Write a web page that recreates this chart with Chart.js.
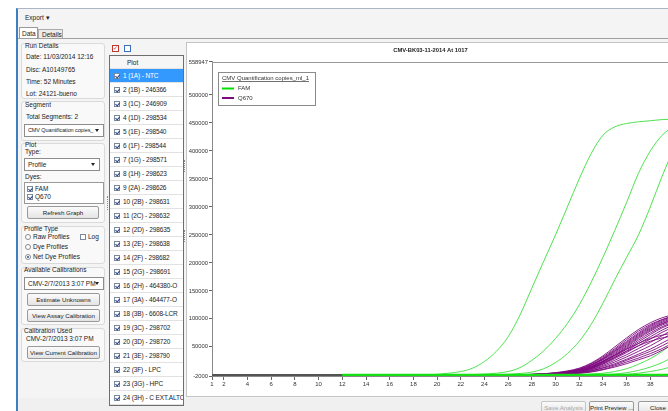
<!DOCTYPE html>
<html>
<head>
<meta charset="utf-8">
<script src="https://cdn.jsdelivr.net/npm/chart.js@4.4.1/dist/chart.umd.min.js"></script>
<style>
*{box-sizing:border-box}
html,body{margin:0;padding:0}
body{width:668px;height:411px;overflow:hidden;background:#fff;position:relative;font:6.5px/8px "Liberation Sans",Arial,sans-serif;color:#222}
.a{position:absolute;white-space:nowrap}
#win{position:absolute;left:16px;top:8px;width:660px;height:410px;background:#f4f4f4;border-left:2px solid #3f7fbf;border-top:1px solid #aab6c3}
.grp{position:absolute;border:1px solid #dadada;border-radius:3px;background:#f9f9f9}
.btn{position:absolute;height:13px;border:1px solid #9a9a9a;border-radius:2px;background:linear-gradient(#fbfbfb,#e4e4e4);text-align:center;line-height:11px;white-space:nowrap;overflow:hidden;font-size:6.2px}
.dd{position:absolute;height:13px;border:1px solid #8c8c8c;background:#fff;line-height:11px;padding-left:3px;white-space:nowrap;overflow:hidden}
.dd i{position:absolute;right:4px;top:4px;width:0;height:0;border-left:2.5px solid transparent;border-right:2.5px solid transparent;border-top:3px solid #222}
.cb{position:absolute;width:6px;height:6px;border:1px solid #7a8a9c;background:#fff}
.cb.on:after{content:"";position:absolute;left:1px;top:0px;width:2px;height:3px;border:solid #2a3f86;border-width:0 1px 1px 0;transform:rotate(40deg)}
.rd{position:absolute;width:6px;height:6px;border:1px solid #8a8a8a;border-radius:50%;background:#fff}
.rd.on:after{content:"";position:absolute;left:1px;top:1px;width:2px;height:2px;border-radius:50%;background:#1e4f9c}
#list{position:absolute;left:109px;top:55px;width:75px;height:351px;border:1px solid #6e6e6e;background:#fff;overflow:hidden}
.row{position:absolute;left:0;width:73px;height:14px;border-bottom:1px solid #e2e2e2;line-height:13px;white-space:nowrap}
.row span{white-space:nowrap;letter-spacing:-0.12px}
.row.sel{background:#3399ff;color:#fff}
#panel{position:absolute;left:186px;top:42px;width:500px;height:355px;border:1px solid #c4c4c4;background:#fff}
#panel canvas{position:absolute;left:0;top:0}
</style>
</head>
<body>
<div id="win"></div>
<div class="a" style="left:25px;top:14px">Export ▾</div>
<div class="a" style="left:19px;top:27px;width:19px;height:12px;background:#fff;border:1px solid #9a9a9a;border-bottom:none;padding-left:2px;line-height:11px">Data</div>
<div class="a" style="left:38px;top:29px;width:25px;height:10px;background:#ececec;border:1px solid #aaa;border-bottom:none;padding-left:3px;line-height:9px">Details</div>
<div class="a" style="left:18px;top:38px;width:652px;height:1px;background:#a0a0a0"></div>

<!-- bottom bar -->
<div class="a" style="left:18px;top:398px;width:652px;height:13px;background:#f0f0f0"></div>

<!-- left panel groups -->
<div class="grp" style="left:21px;top:43px;width:84px;height:56px"></div>
<div class="a" style="left:25px;top:42px">Run Details</div>
<div class="a" style="left:26px;top:53px">Date: 11/03/2014 12:16</div>
<div class="a" style="left:26px;top:66px">Disc: A10149765</div>
<div class="a" style="left:26px;top:78px">Time: 52 Minutes</div>
<div class="a" style="left:26px;top:90px">Lot: 24121-bueno</div>

<div class="grp" style="left:21px;top:101px;width:84px;height:40px"></div>
<div class="a" style="left:25px;top:101px">Segment</div>
<div class="a" style="left:26px;top:113px">Total Segments: 2</div>
<div class="dd" style="left:24px;top:124px;width:80px;font-size:5.5px;letter-spacing:-0.1px">CMV Quantification copies_<i></i></div>

<div class="grp" style="left:21px;top:143px;width:84px;height:80px"></div>
<div class="a" style="left:25px;top:141px">Plot</div>
<div class="a" style="left:25px;top:148px">Type:</div>
<div class="dd" style="left:24px;top:158px;width:76px">Profile<i></i></div>
<div class="a" style="left:25px;top:173px">Dyes:</div>
<div class="a" style="left:24px;top:182px;width:80px;height:22px;border:1px solid #9a9a9a;background:#fff"></div>
<div class="cb on" style="left:27px;top:186px"></div><div class="a" style="left:35px;top:185px">FAM</div>
<div class="cb on" style="left:27px;top:194px"></div><div class="a" style="left:35px;top:193px">Q670</div>
<div class="btn" style="left:27px;top:206px;width:72px">Refresh Graph</div>

<div class="grp" style="left:21px;top:226px;width:84px;height:38px"></div>
<div class="a" style="left:24px;top:225px">Profile Type</div>
<div class="rd" style="left:25px;top:234px"></div><div class="a" style="left:33px;top:233px">Raw Profiles</div>
<div class="cb" style="left:80px;top:234px"></div><div class="a" style="left:88px;top:233px">Log</div>
<div class="rd" style="left:25px;top:244px"></div><div class="a" style="left:33px;top:243px">Dye Profiles</div>
<div class="rd on" style="left:25px;top:254px"></div><div class="a" style="left:33px;top:253px">Net Dye Profiles</div>

<div class="grp" style="left:21px;top:267px;width:84px;height:58px"></div>
<div class="a" style="left:24px;top:266px">Available Calibrations</div>
<div class="dd" style="left:24px;top:277px;width:80px">CMV-2/7/2013 3:07 PM<i></i></div>
<div class="btn" style="left:27px;top:293px;width:73px">Estimate Unknowns</div>
<div class="btn" style="left:27px;top:309px;width:73px">View Assay Calibration</div>

<div class="grp" style="left:21px;top:328px;width:84px;height:34px"></div>
<div class="a" style="left:24px;top:327px">Calibration Used</div>
<div class="a" style="left:26px;top:335px">CMV-2/7/2013 3:07 PM</div>
<div class="btn" style="left:27px;top:346px;width:73px">View Current Calibration</div>

<!-- list -->
<div class="a" style="left:112px;top:45px;width:7px;height:7px;border:1px solid #c0392b;background:#fff"></div>
<div class="a" style="left:113px;top:45px;color:#c0392b;font-size:6px;line-height:6px">✓</div>
<div class="a" style="left:124px;top:45px;width:7px;height:7px;border:1px solid #3b6fc4;background:#fff"></div>
<div class="a" style="left:107px;top:196px;width:1px;height:14px;border-left:1px dotted #888"></div>
<div class="a" style="left:184px;top:160px;width:1px;height:12px;border-left:1px dotted #888"></div>
<div class="a" style="left:184px;top:230px;width:1px;height:12px;border-left:1px dotted #888"></div>
<div id="list"><div class="row" style="top:0;height:13px;background:#f6f6f6;padding-left:17px">Plot</div></div>

<!-- chart -->
<div id="panel"><canvas id="c" width="500" height="353"></canvas></div>

<div class="btn" style="left:541px;top:401px;width:45px;color:#a8a8a8;border-color:#c4c4c4">Save Analysis</div>
<div class="btn" style="left:589px;top:401px;width:45px">Print Preview ...</div>
<div class="btn" style="left:638px;top:401px;width:40px">Close</div>

<script>
// ---------- data ----------
const wellLabels = ['1 (1A) - NTC','2 (1B) - 246366','3 (1C) - 246909','4 (1D) - 298534','5 (1E) - 298540','6 (1F) - 298544','7 (1G) - 298571','8 (1H) - 298623','9 (2A) - 298626','10 (2B) - 298631','11 (2C) - 298632','12 (2D) - 298635','13 (2E) - 298638','14 (2F) - 298682','15 (2G) - 298691','16 (2H) - 464380-O','17 (3A) - 464477-O','18 (3B) - 6608-LCR','19 (3C) - 298702','20 (3D) - 298720','21 (3E) - 298790','22 (3F) - LPC','23 (3G) - HPC','24 (3H) - C EXT.ALTO'];
const chartTitle = 'CMV-BK03-11-2014 At 1017';
const legendTitle = 'CMV Quantification copies_ml_1';
const dyeNames = ['FAM', 'Q670'];
const cycles = [1,2,3,4,5,6,7,8,9,10,11,12,13,14,15,16,17,18,19,20,21,22,23,24,25,26,27,28,29,30,31,32,33,34,35,36,37,38,39,40];
const xTickValues = [1,2,4,6,8,10,12,14,16,18,20,22,24,26,28,30,32,34,36,38,40];
const yTickValues = [-2000,50000,100000,150000,200000,250000,300000,350000,400000,450000,500000,558947];
const yMin = -2000, yMax = 558947;

// FAM fluorescence (thousands), cycles 1..40
const famA = [0,0,0,0,0,0,0,0,0,0,0,0,0,0,0,0,0,0,0,1,3,6,12,24,42,68,107,155,203,250,300,350,395,428,443,449,452,454,456,457];
const famB = [0,0,0,0,0,0,0,0,0,0,0,0,0,0,0,0,0,0,0,0,0,0,0.5,1.5,3,6,13,26,43,65,92,125,165,210,258,308,360,400,428,445];
const famC = [0,0,0,0,0,0,0,0,0,0,0,0,0,0,0,0,0,0,0,0,0,0,0,0,0.5,1,2.5,5,11,22,38,60,90,128,170,210,250,300,355,405];
const famD = [0,0,0,0,0,0,0,0,0,0,0,0,0,0,0,0,0,0,0,0,0,0,0,0,0,0,0,0,0,0,0,0.5,1.5,3,6,11,19,29,42,58];
const famE = [0,0,0,0,0,0,0,0,0,0,0,0,0,0,0,0,0,0,0,0,0,0,0,0,0,0,0,0,0,0,0,0,0,0.5,1.5,4,8,14,22,33];
const famF = [0,0,0,0,0,0,0,0,0,0,0,0,0,0,0,0,0,0,0,0,0,0,0,0,0,0,0,0,0,0,0,0,0,0,0.5,1,3,6,10,16];
const famNeg1 = [null,null,null,null,null,null,null,null,null,null,null,0.8,0.8,0.8,0.8,0.8,0.8,0.8,0.8,0.8,0.8,0.8,0.8,0.8,0.8,0.8,0.8,0.8,0.8,0.8,0.8,0.8,0.8,0.8,0.8,0.8,0.8,0.8,0.8,0.8];
const famNeg2 = [null,null,null,null,null,null,null,null,null,null,null,0,0,0,0,0,0,0,0,0,0,0,0,0,0,0,0,0,0,0,0,0,0,0,0,0,0,0,0,0];
const famNeg3 = [null,null,null,null,null,null,null,null,null,null,null,-0.8,-0.8,-0.8,-0.8,-0.8,-0.8,-0.8,-0.8,-0.8,-0.8,-0.8,-0.8,-0.8,-0.8,-0.8,-0.8,-0.8,-0.8,-0.8,-0.8,-0.8,-0.8,-0.8,-0.8,-0.8,-0.8,-0.8,-0.8,-0.8];

// Q670 fluorescence (thousands), cycles 1..40
const q01 = [0,0,0,0,0,0,0,0,0,0,0,0,0,0,0,0,0,0,0,0,0,0,0,0,0,0,0.3,1,2,4,7,12,21,34,50,66,81,93,102,108];
const q02 = [0,0,0,0,0,0,0,0,0,0,0,0,0,0,0,0,0,0,0,0,0,0,0,0,0,0,0.3,0.9,1.8,3.5,6.5,11,20,32,47,63,78,90,99,106];
const q03 = [0,0,0,0,0,0,0,0,0,0,0,0,0,0,0,0,0,0,0,0,0,0,0,0,0,0,0.2,0.8,1.6,3.2,6,10,18,30,45,60,75,88,98,105];
const q04 = [0,0,0,0,0,0,0,0,0,0,0,0,0,0,0,0,0,0,0,0,0,0,0,0,0,0,0.2,0.8,1.5,3,5.5,10,18,29,43,58,73,86,96,104];
const q05 = [0,0,0,0,0,0,0,0,0,0,0,0,0,0,0,0,0,0,0,0,0,0,0,0,0,0,0.2,0.7,1.4,2.8,5.2,9,17,28,42,56,71,84,94,102];
const q06 = [0,0,0,0,0,0,0,0,0,0,0,0,0,0,0,0,0,0,0,0,0,0,0,0,0,0,0.2,0.7,1.3,2.6,5,9,16,27,40,54,69,82,92,100];
const q07 = [0,0,0,0,0,0,0,0,0,0,0,0,0,0,0,0,0,0,0,0,0,0,0,0,0,0,0.2,0.6,1.2,2.4,4.5,8,15,25,38,52,67,80,91,99];
const q08 = [0,0,0,0,0,0,0,0,0,0,0,0,0,0,0,0,0,0,0,0,0,0,0,0,0,0,0.1,0.6,1.1,2.2,4.3,8,14,24,36,50,65,78,89,97];
const q09 = [0,0,0,0,0,0,0,0,0,0,0,0,0,0,0,0,0,0,0,0,0,0,0,0,0,0,0.1,0.5,1,2,4,7,13,23,35,48,62,75,86,95];
const q10 = [0,0,0,0,0,0,0,0,0,0,0,0,0,0,0,0,0,0,0,0,0,0,0,0,0,0,0.1,0.5,1,2,3.8,7,12,22,33,46,59,72,84,93];
const q11 = [0,0,0,0,0,0,0,0,0,0,0,0,0,0,0,0,0,0,0,0,0,0,0,0,0,0,0.1,0.4,0.9,1.8,3.4,6,11,20,31,43,56,68,80,90];
const q12 = [0,0,0,0,0,0,0,0,0,0,0,0,0,0,0,0,0,0,0,0,0,0,0,0,0,0,0.1,0.4,0.8,1.7,3.2,6,11,19,29,40,52,64,76,86];
const q13 = [0,0,0,0,0,0,0,0,0,0,0,0,0,0,0,0,0,0,0,0,0,0,0,0,0,0,0.2,0.6,1.2,2.4,4.5,8,14,24,35,46,56,65,71,75];
const q14 = [0,0,0,0,0,0,0,0,0,0,0,0,0,0,0,0,0,0,0,0,0,0,0,0,0,0,0.2,0.5,1,2.1,4,7,12,21,31,42,52,60,66,70];
const q15 = [0,0,0,0,0,0,0,0,0,0,0,0,0,0,0,0,0,0,0,0,0,0,0,0,0,0,0.1,0.3,0.7,1.4,2.8,5,9.5,17,26,36,47,58,70,82];
const q16 = [0,0,0,0,0,0,0,0,0,0,0,0,0,0,0,0,0,0,0,0,0,0,0,0,0,0,0.1,0.3,0.6,1.3,2.6,5,9,15,23,32,42,52,64,76];
const q17 = [0,0,0,0,0,0,0,0,0,0,0,0,0,0,0,0,0,0,0,0,0,0,0,0,0,0,0.1,0.2,0.5,1.1,2.2,4,7.5,13,20,28,37,46,57,68];
const q18 = [0,0,0,0,0,0,0,0,0,0,0,0,0,0,0,0,0,0,0,0,0,0,0,0,0,0,0.1,0.2,0.5,1,2,4,7,12,18,26,34,42,52,63];
const q19 = [0,0,0,0,0,0,0,0,0,0,0,0,0,0,0,0,0,0,0,0,0,0,0,0,0,0,0,0.2,0.4,0.8,1.6,3,6,10,16,23,30,38,47,58];
const q20 = [0,0,0,0,0,0,0,0,0,0,0,0,0,0,0,0,0,0,0,0,0,0,0,0,0,0,0,0.1,0.3,0.7,1.4,3,5,9,14,20,27,34,44,55];

const famFlatCurves = [famNeg1, famNeg2, famNeg3];
const famRisingCurves = [famA, famB, famC, famD, famE, famF];
const q670Curves = [q01,q02,q03,q04,q05,q06,q07,q08,q09,q10,q11,q12,q13,q14,q15,q16,q17,q18,q19,q20];

// ---------- well list ----------
const list = document.getElementById('list');
wellLabels.forEach((lbl, i) => {
  const r = document.createElement('div');
  r.className = 'row' + (i === 0 ? ' sel' : '');
  r.style.top = (13 + i * 14) + 'px';
  r.innerHTML = '<div class="cb on" style="left:4px;top:4px"></div><span style="position:absolute;left:13px">' + lbl + '</span>';
  list.appendChild(r);
});

// ---------- chart ----------
const FAM_COLOR = '#4ee24e', FAM_FLAT = '#14e014', Q_COLOR = '#7e0a80';
const toPts = arr => cycles.map((c, i) => ({x: c, y: arr[i] === null ? null : arr[i] * 1000}));
const datasets = [];
famFlatCurves.forEach(a => datasets.push({label: 'FAM', data: toPts(a), borderColor: FAM_FLAT, borderWidth: 1.4}));
q670Curves.forEach(a => datasets.push({label: 'Q670', data: toPts(a), borderColor: Q_COLOR, borderWidth: 0.9,
  segment: {borderColor: ctx => ctx.p1.parsed.x <= 12 ? '#555555' : undefined}}));
famRisingCurves.forEach(a => datasets.push({label: 'FAM', data: toPts(a), borderColor: FAM_COLOR, borderWidth: 1}));

const FONT = "'Liberation Sans', Arial, sans-serif";
const legendColors = {FAM: '#00e000', Q670: '#7e0a80'};

const frameTop = {
  id: 'frameTop',
  beforeDatasetsDraw(chart) {
    const {ctx, chartArea: a} = chart;
    ctx.save(); ctx.strokeStyle = '#9a9a9a'; ctx.lineWidth = 1;
    ctx.beginPath(); ctx.moveTo(a.left, Math.round(a.top) + 0.5); ctx.lineTo(a.right, Math.round(a.top) + 0.5); ctx.stroke();
    ctx.restore();
  }
};
const boxLegend = {
  id: 'boxLegend',
  afterDatasetsDraw(chart) {
    const {ctx, chartArea: a} = chart;
    const x = Math.round(a.left) + 6, y = Math.round(a.top) + 10, w = 97, h = 33;
    ctx.save();
    ctx.fillStyle = '#fff'; ctx.fillRect(x, y, w, h);
    ctx.strokeStyle = '#8a8a8a'; ctx.lineWidth = 1; ctx.strokeRect(x + 0.5, y + 0.5, w, h);
    ctx.font = '6px ' + FONT; ctx.fillStyle = '#333'; ctx.textBaseline = 'middle';
    ctx.fillText(legendTitle, x + 4, y + 6);
    const tw = ctx.measureText(legendTitle).width;
    ctx.fillRect(x + 4, y + 9, tw, 0.7);
    dyeNames.forEach((n, i) => {
      const yy = y + 16.5 + i * 9.5;
      ctx.strokeStyle = legendColors[n]; ctx.lineWidth = 2;
      ctx.beginPath(); ctx.moveTo(x + 4, yy); ctx.lineTo(x + 16, yy); ctx.stroke();
      ctx.fillText(n, x + 20, yy);
    });
    ctx.restore();
  }
};

new Chart(document.getElementById('c'), {
  type: 'line',
  data: {datasets},
  plugins: [frameTop, boxLegend],
  options: {
    responsive: false, animation: false, devicePixelRatio: 1,
    spanGaps: false,
    elements: {point: {radius: 0}, line: {tension: 0.35, cubicInterpolationMode: 'monotone'}},
    layout: {padding: {left: 0, right: 13, top: 0, bottom: 0}},
    plugins: {
      legend: {display: false}, tooltip: {enabled: false},
      title: {display: true, text: chartTitle, color: '#222', font: {family: FONT, size: 5.8, weight: 'bold'}, padding: {top: 3.5, bottom: 8.5}}
    },
    scales: {
      x: {
        type: 'linear', min: 1, max: 40,
        afterBuildTicks: s => { s.ticks = xTickValues.map(v => ({value: v})); },
        afterFit: s => { s.height = 20; },
        ticks: {color: '#333', font: {family: FONT, size: 6}, padding: 1, maxRotation: 0, autoSkip: false, callback: v => String(v)},
        grid: {display: true, drawOnChartArea: false, drawTicks: true, tickLength: 4, color: '#666'},
        border: {display: true, color: '#8a8a8a'}
      },
      y: {
        type: 'linear', min: yMin, max: yMax,
        afterBuildTicks: s => { s.ticks = yTickValues.map(v => ({value: v})); },
        afterFit: s => { s.width = 25; },
        ticks: {color: '#333', font: {family: FONT, size: 5.8}, padding: 1, autoSkip: false, callback: v => String(v)},
        grid: {display: true, drawOnChartArea: false, drawTicks: true, tickLength: 3, color: '#666'},
        border: {display: true, color: '#8a8a8a'}
      }
    }
  }
});
</script>
</body>
</html>
